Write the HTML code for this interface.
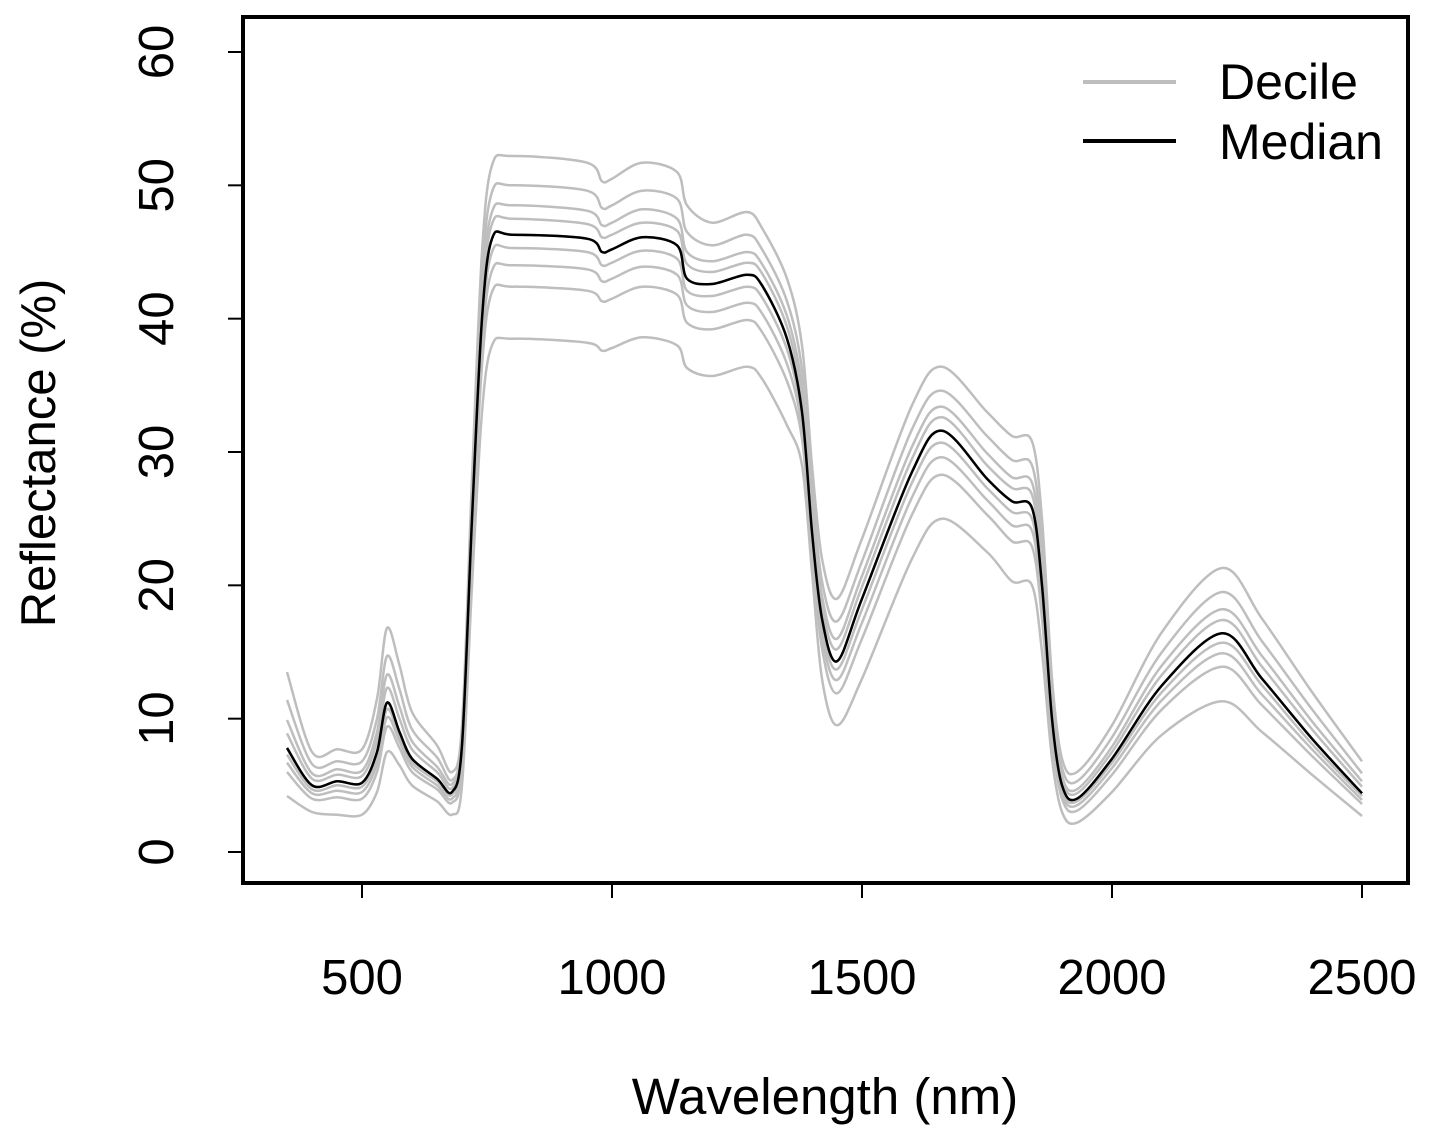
<!DOCTYPE html>
<html><head><meta charset="utf-8"><style>
html,body{margin:0;padding:0;background:#fff;}
svg{display:block;font-family:"Liberation Sans",Arial,sans-serif;}
</style></head><body>
<svg id="chart" width="1436" height="1148" viewBox="0 0 1436 1148" xmlns="http://www.w3.org/2000/svg">
<g id="series"></g>
<rect x="243" y="17" width="1165" height="866" fill="none" stroke="#000" stroke-width="4"/>
<g id="axes"></g>
<text x="825" y="1114" font-size="51" text-anchor="middle">Wavelength (nm)</text>
<text transform="translate(55,453) rotate(-90)" font-size="49" text-anchor="middle">Reflectance (%)</text>
<g>
<line x1="1083" y1="82" x2="1176" y2="82" stroke="#bebebe" stroke-width="4"/>
<text x="1219" y="99" font-size="50">Decile</text>
<line x1="1083" y1="141" x2="1176" y2="141" stroke="#000" stroke-width="4"/>
<text x="1219" y="159" font-size="50">Median</text>
</g>
</svg>
<script>
const wavelengths=[350,400,450,500,530,550,575,600,650,680,700,720,740,760,800,950,980,1000,1060,1130,1150,1200,1270,1300,1350,1380,1400,1420,1450,1500,1600,1660,1750,1800,1840,1860,1880,1900,1930,2000,2100,2220,2300,2400,2500];
const d10=[4.2,3.0,2.8,2.8,4.5,7.5,6.5,5.0,3.8,2.8,5.0,20,33,38,38.5,38.2,37.6,37.8,38.6,38.0,36.3,35.7,36.4,35.5,32.0,29.0,21.0,13.0,9.5,13.0,22.0,25.0,22.5,20.3,20.0,15.0,7.0,3.0,2.2,4.5,8.8,11.3,9.0,5.8,2.7];
const d20=[6.0,4.0,4.1,4.0,6.0,9.4,7.8,6.0,4.7,3.7,6.5,22.5,36.5,42.0,42.4,42.1,41.3,41.5,42.4,41.8,39.7,39.2,39.9,39.0,35.3,31.0,22.5,15.3,11.9,16.0,25.3,28.3,25.3,23.3,22.9,17.5,8.5,4.0,3.1,5.8,10.7,13.9,11.0,7.2,3.6];
const d30=[6.7,4.4,4.6,4.5,6.6,10.1,8.3,6.4,5.0,4.0,7.1,23.5,37.9,43.6,44.0,43.7,42.8,43.0,43.9,43.3,41.0,40.5,41.2,40.4,36.6,31.8,23.1,16.2,12.9,17.2,26.6,29.6,26.4,24.5,24.1,18.5,9.1,4.4,3.5,6.3,11.4,14.9,11.8,7.7,3.9];
const d40=[7.3,4.7,5.0,4.9,7.1,10.7,8.7,6.7,5.3,4.3,7.6,24.4,39.1,45.0,45.3,45.0,44.0,44.2,45.1,44.5,42.1,41.7,42.4,41.6,37.7,32.5,23.6,16.9,13.7,18.2,27.7,30.7,27.3,25.5,25.0,19.4,9.6,4.7,3.8,6.7,12.0,15.7,12.5,8.1,4.2];
const median=[7.8,5.0,5.3,5.2,7.5,11.2,9.0,7.0,5.5,4.5,8.0,25,40,46,46.3,46.0,45.0,45.2,46.1,45.5,43.0,42.6,43.3,42.5,38.5,33.0,24.0,17.5,14.3,19.0,28.5,31.6,28.0,26.3,25.8,20.0,10.0,5.0,4.0,7.0,12.5,16.4,13.0,8.5,4.4];
const d60=[8.9,5.5,5.8,5.7,8.3,12.3,10.0,7.7,6.0,4.8,8.3,25.6,41.0,47.1,47.5,47.1,46.1,46.3,47.2,46.6,44.1,43.5,44.2,43.4,39.4,34.0,25.0,18.4,15.2,19.9,29.5,32.6,29.0,27.3,26.8,21.0,10.6,5.4,4.4,7.5,13.3,17.4,13.9,9.2,4.9];
const d70=[9.9,5.9,6.2,6.1,9.0,13.3,10.9,8.3,6.4,5.1,8.6,26.1,41.9,48.0,48.5,48.1,47.0,47.2,48.2,47.5,45.0,44.3,45.0,44.1,40.2,34.9,25.9,19.2,16.0,20.7,30.4,33.4,29.9,28.1,27.7,21.9,11.1,5.7,4.7,7.9,14.0,18.2,14.7,9.8,5.3];
const d80=[11.4,6.6,6.8,6.8,10.0,14.7,12.2,9.2,7.1,5.4,8.9,26.9,43.2,49.5,50.0,49.6,48.3,48.5,49.6,49.0,46.5,45.5,46.3,45.2,41.3,36.2,27.2,20.3,17.3,21.8,31.7,34.6,31.2,29.4,29.0,23.2,11.9,6.3,5.3,8.6,15.0,19.5,15.8,10.7,5.9];
const d90=[13.5,7.5,7.7,7.7,11.5,16.8,14.0,10.5,8.0,6.0,9.5,28,45,51.5,52.2,51.7,50.3,50.5,51.7,51.0,48.5,47.2,48.0,46.8,43.0,38.0,29.0,22.0,19.0,23.5,33.5,36.4,33.0,31.2,30.8,25.0,13.0,7.0,6.0,9.5,16.5,21.3,17.5,12.0,6.8];
const xTicks=[500,1000,1500,2000,2500];
const yTicks=[0,10,20,30,40,50,60];

const NS="http://www.w3.org/2000/svg";
function xs(w){return 362+(w-500)*0.5;}
function ys(v){return 852-v*(800/60);}
function pathFor(vals){
  const p=wavelengths.map((w,i)=>[xs(w),ys(vals[i])]);
  let d="M"+p[0][0]+","+p[0][1];
  for(let i=0;i<p.length-1;i++){
    const p0=p[Math.max(0,i-1)],p1=p[i],p2=p[i+1],p3=p[Math.min(p.length-1,i+2)];
    const t=0.16;
    const c1=[p1[0]+(p2[0]-p0[0])*t,p1[1]+(p2[1]-p0[1])*t];
    const c2=[p2[0]-(p3[0]-p1[0])*t,p2[1]-(p3[1]-p1[1])*t];
    d+=" C"+c1[0].toFixed(1)+","+c1[1].toFixed(1)+" "+c2[0].toFixed(1)+","+c2[1].toFixed(1)+" "+p2[0].toFixed(1)+","+p2[1].toFixed(1);
  }
  return d;
}
const g=document.getElementById("series");
const deciles=[["decile-10",d10],["decile-20",d20],["decile-30",d30],["decile-40",d40],["decile-50",median],["decile-60",d60],["decile-70",d70],["decile-80",d80],["decile-90",d90]];
deciles.forEach(([n,v])=>{
  const el=document.createElementNS(NS,"path");
  el.setAttribute("d",pathFor(v));
  el.setAttribute("fill","none");el.setAttribute("stroke","#bebebe");el.setAttribute("stroke-width","2.5");
  
  
  g.appendChild(el);
});
const m=document.createElementNS(NS,"path");
m.setAttribute("d",pathFor(median));
m.setAttribute("fill","none");m.setAttribute("stroke","#000");m.setAttribute("stroke-width","2.5");


g.appendChild(m);

const ax=document.getElementById("axes");
xTicks.forEach(t=>{
  const l=document.createElementNS(NS,"line");
  l.setAttribute("x1",xs(t));l.setAttribute("x2",xs(t));l.setAttribute("y1",883);l.setAttribute("y2",898);
  l.setAttribute("stroke","#000");l.setAttribute("stroke-width","2");
  
  
  ax.appendChild(l);
  const tx=document.createElementNS(NS,"text");
  tx.setAttribute("x",xs(t));tx.setAttribute("y",994);tx.setAttribute("font-size","49");tx.setAttribute("text-anchor","middle");
  tx.textContent=t;
  
  
  ax.appendChild(tx);
});
yTicks.forEach(t=>{
  const l=document.createElementNS(NS,"line");
  l.setAttribute("x1",228);l.setAttribute("x2",243);l.setAttribute("y1",ys(t));l.setAttribute("y2",ys(t));
  l.setAttribute("stroke","#000");l.setAttribute("stroke-width","2");
  
  
  ax.appendChild(l);
  const tx=document.createElementNS(NS,"text");
  tx.setAttribute("transform","translate(173,"+ys(t)+") rotate(-90)");
  tx.setAttribute("font-size","49");tx.setAttribute("text-anchor","middle");
  tx.textContent=t;
  
  
  ax.appendChild(tx);
});
</script>
</body></html>
